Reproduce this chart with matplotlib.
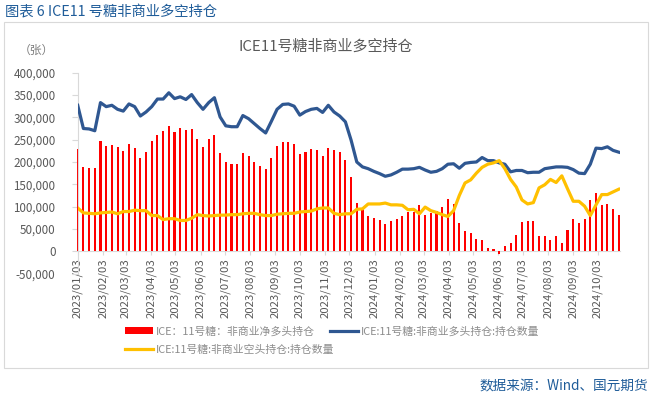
import numpy as np
import pandas as pd
import matplotlib
matplotlib.use('Agg')
import matplotlib.pyplot as plt
import matplotlib.dates as mdates
from matplotlib.ticker import MultipleLocator, FuncFormatter
from matplotlib.patches import Patch, Rectangle
from matplotlib.lines import Line2D

plt.rcParams['font.family'] = ['Noto Sans CJK SC', 'DejaVu Sans']

# 周度数据：2023/01/03 起，共 96 周
start_date = '2023-01-03'
n_weeks = 96
dates = pd.date_range(start_date, periods=n_weeks, freq='7D').to_numpy()

# 非商业净多头持仓（千张）
net_long = [
    230, 189, 186, 186, 246, 236, 239, 234, 224, 240, 231, 210,
    222, 247, 260, 270, 280, 267, 277, 272, 275, 251, 234, 252,
    261, 220, 200, 196, 196, 220, 213, 199, 192, 185, 209, 235,
    244, 244, 240, 217, 222, 228, 226, 213, 232, 226, 222, 205,
    166, 108, 94, 78, 74, 69, 60, 67, 73, 80, 87, 88,
    103, 82, 85, 91, 100, 117, 106, 63, 45, 40, 28, 25,
    8, 5, -5, 11, 18, 37, 65, 67, 67, 35, 35, 25,
    34, 19, 47, 73, 63, 72, 115, 130, 103, 106, 94, 82,
]

# 非商业多头持仓（千张）
long_pos = [
    327, 275, 274, 270, 333, 324, 327, 318, 314, 330, 324, 303,
    312, 324, 341, 341, 355, 342, 346, 340, 351, 333, 318, 333,
    344, 301, 281, 279, 279, 304, 297, 286, 275, 265, 291, 318,
    329, 330, 325, 305, 313, 318, 320, 311, 327, 312, 303, 290,
    249, 200, 189, 185, 179, 174, 168, 171, 177, 184, 184, 185,
    188, 182, 177, 179, 185, 195, 196, 186, 197, 199, 200, 210,
    203, 203, 198, 195, 178, 181, 181, 176, 177, 177, 185, 187,
    189, 189, 188, 183, 175, 174, 195, 231, 230, 234, 226, 222,
]

# 非商业空头持仓（千张）
short_pos = [
    97, 86, 85, 84, 86, 87, 88, 84, 89, 89, 92, 91,
    91, 80, 80, 71, 73, 73, 69, 69, 74, 82, 80, 79,
    80, 81, 81, 82, 82, 84, 85, 85, 82, 80, 80, 83,
    84, 85, 85, 88, 89, 90, 95, 97, 97, 85, 82, 84,
    84, 94, 95, 106, 106, 106, 108, 104, 104, 103, 93, 94,
    84, 99, 91, 87, 82, 78, 91, 125, 153, 160, 175, 188,
    195, 198, 203, 185, 161, 144, 115, 106, 109, 142, 149, 161,
    154, 169, 140, 112, 112, 101, 80, 104, 127, 127, 133, 139,
]

labels = [
    'ICE：11号糖：非商业净多头持仓',
    'ICE:11号糖:非商业多头持仓:持仓数量',
    'ICE:11号糖:非商业空头持仓:持仓数量',
]

RED = '#FF0000'
BLUE = '#2F5791'
YELLOW = '#FFC000'
GRID = '#D9D9D9'
TXT = '#595959'
TITLE_BLUE = '#1F5C99'

W, H = 653, 396
fig = plt.figure(figsize=(W / 100, H / 100), dpi=100)

# 外框
fig.add_artist(Rectangle((4 / W, 1 - 368 / H), 644 / W, 346 / H, transform=fig.transFigure,
                         fill=False, edgecolor=GRID, lw=0.8))

ax = fig.add_axes([77.7 / W, 1 - 273.6 / H, (620 - 77.7) / W, (273.6 - 72.7) / H])

k = 1000
ax.bar(dates, np.array(net_long) * k, width=2.6, color=RED, clip_on=False, zorder=2)
ax.plot(dates, np.array(long_pos) * k, color=BLUE, lw=2.3, zorder=3, solid_joinstyle='round')
ax.plot(dates, np.array(short_pos) * k, color=YELLOW, lw=2.3, zorder=3, solid_joinstyle='round')

ax.set_ylim(-50000, 400000)
ax.set_xlim(dates[0], dates[-1] + np.timedelta64(36, 'h'))
ax.yaxis.set_major_locator(MultipleLocator(50000))
ax.yaxis.set_major_formatter(FuncFormatter(lambda v, p: f'{v:,.0f}'))

ax.xaxis.set_major_locator(mdates.MonthLocator(bymonthday=3))
ax.xaxis.set_major_formatter(mdates.DateFormatter('%Y/%m/%d'))

for s in ['top', 'right']:
    ax.spines[s].set_visible(False)
ax.spines['left'].set_color(GRID)
ax.spines['bottom'].set_color(GRID)
ax.spines['bottom'].set_position(('data', 0))
ax.spines['bottom'].set_zorder(1)

ax.tick_params(axis='y', colors=GRID, labelcolor=TXT, labelsize=8.4, length=4, pad=12)
ax.tick_params(axis='x', colors=GRID, labelcolor=TXT, labelsize=8.2, length=3, pad=2,
               labelrotation=90)
for t in ax.get_xticklabels():
    t.set_va('top')
    t.set_ha('center')

fig.text(5 / W, 1 - 12 / H, '图表 6 ICE11 号糖非商业多空持仓', ha='left', va='center',
         fontsize=10.3, color=TITLE_BLUE)
fig.text(326 / W, 1 - 47 / H, 'ICE11号糖非商业多空持仓', ha='center', va='center',
         fontsize=10.8, color=TXT)
fig.text(36 / W, 1 - 50 / H, '（张）', ha='center', va='center', fontsize=8.5, color='#7F7F7F')
fig.text(648 / W, 1 - 386 / H, '数据来源：Wind、国元期货', ha='right', va='center',
         fontsize=9.8, color=TITLE_BLUE)

leg_kw = dict(loc='upper left', frameon=False, fontsize=7.8, handlelength=2.6,
              handletextpad=0.25, labelspacing=0.75, borderpad=0, borderaxespad=0,
              labelcolor='#8C8C8C')
fig.legend([Patch(facecolor=RED, edgecolor='none'), Line2D([], [], color=YELLOW, lw=2.3)],
           [labels[0], labels[2]], bbox_to_anchor=(125 / W, 1 - 326 / H), **leg_kw)
fig.legend([Line2D([], [], color=BLUE, lw=2.3)], [labels[1]],
           bbox_to_anchor=(330 / W, 1 - 326 / H), **leg_kw)

fig.savefig('out.png', dpi=100)
